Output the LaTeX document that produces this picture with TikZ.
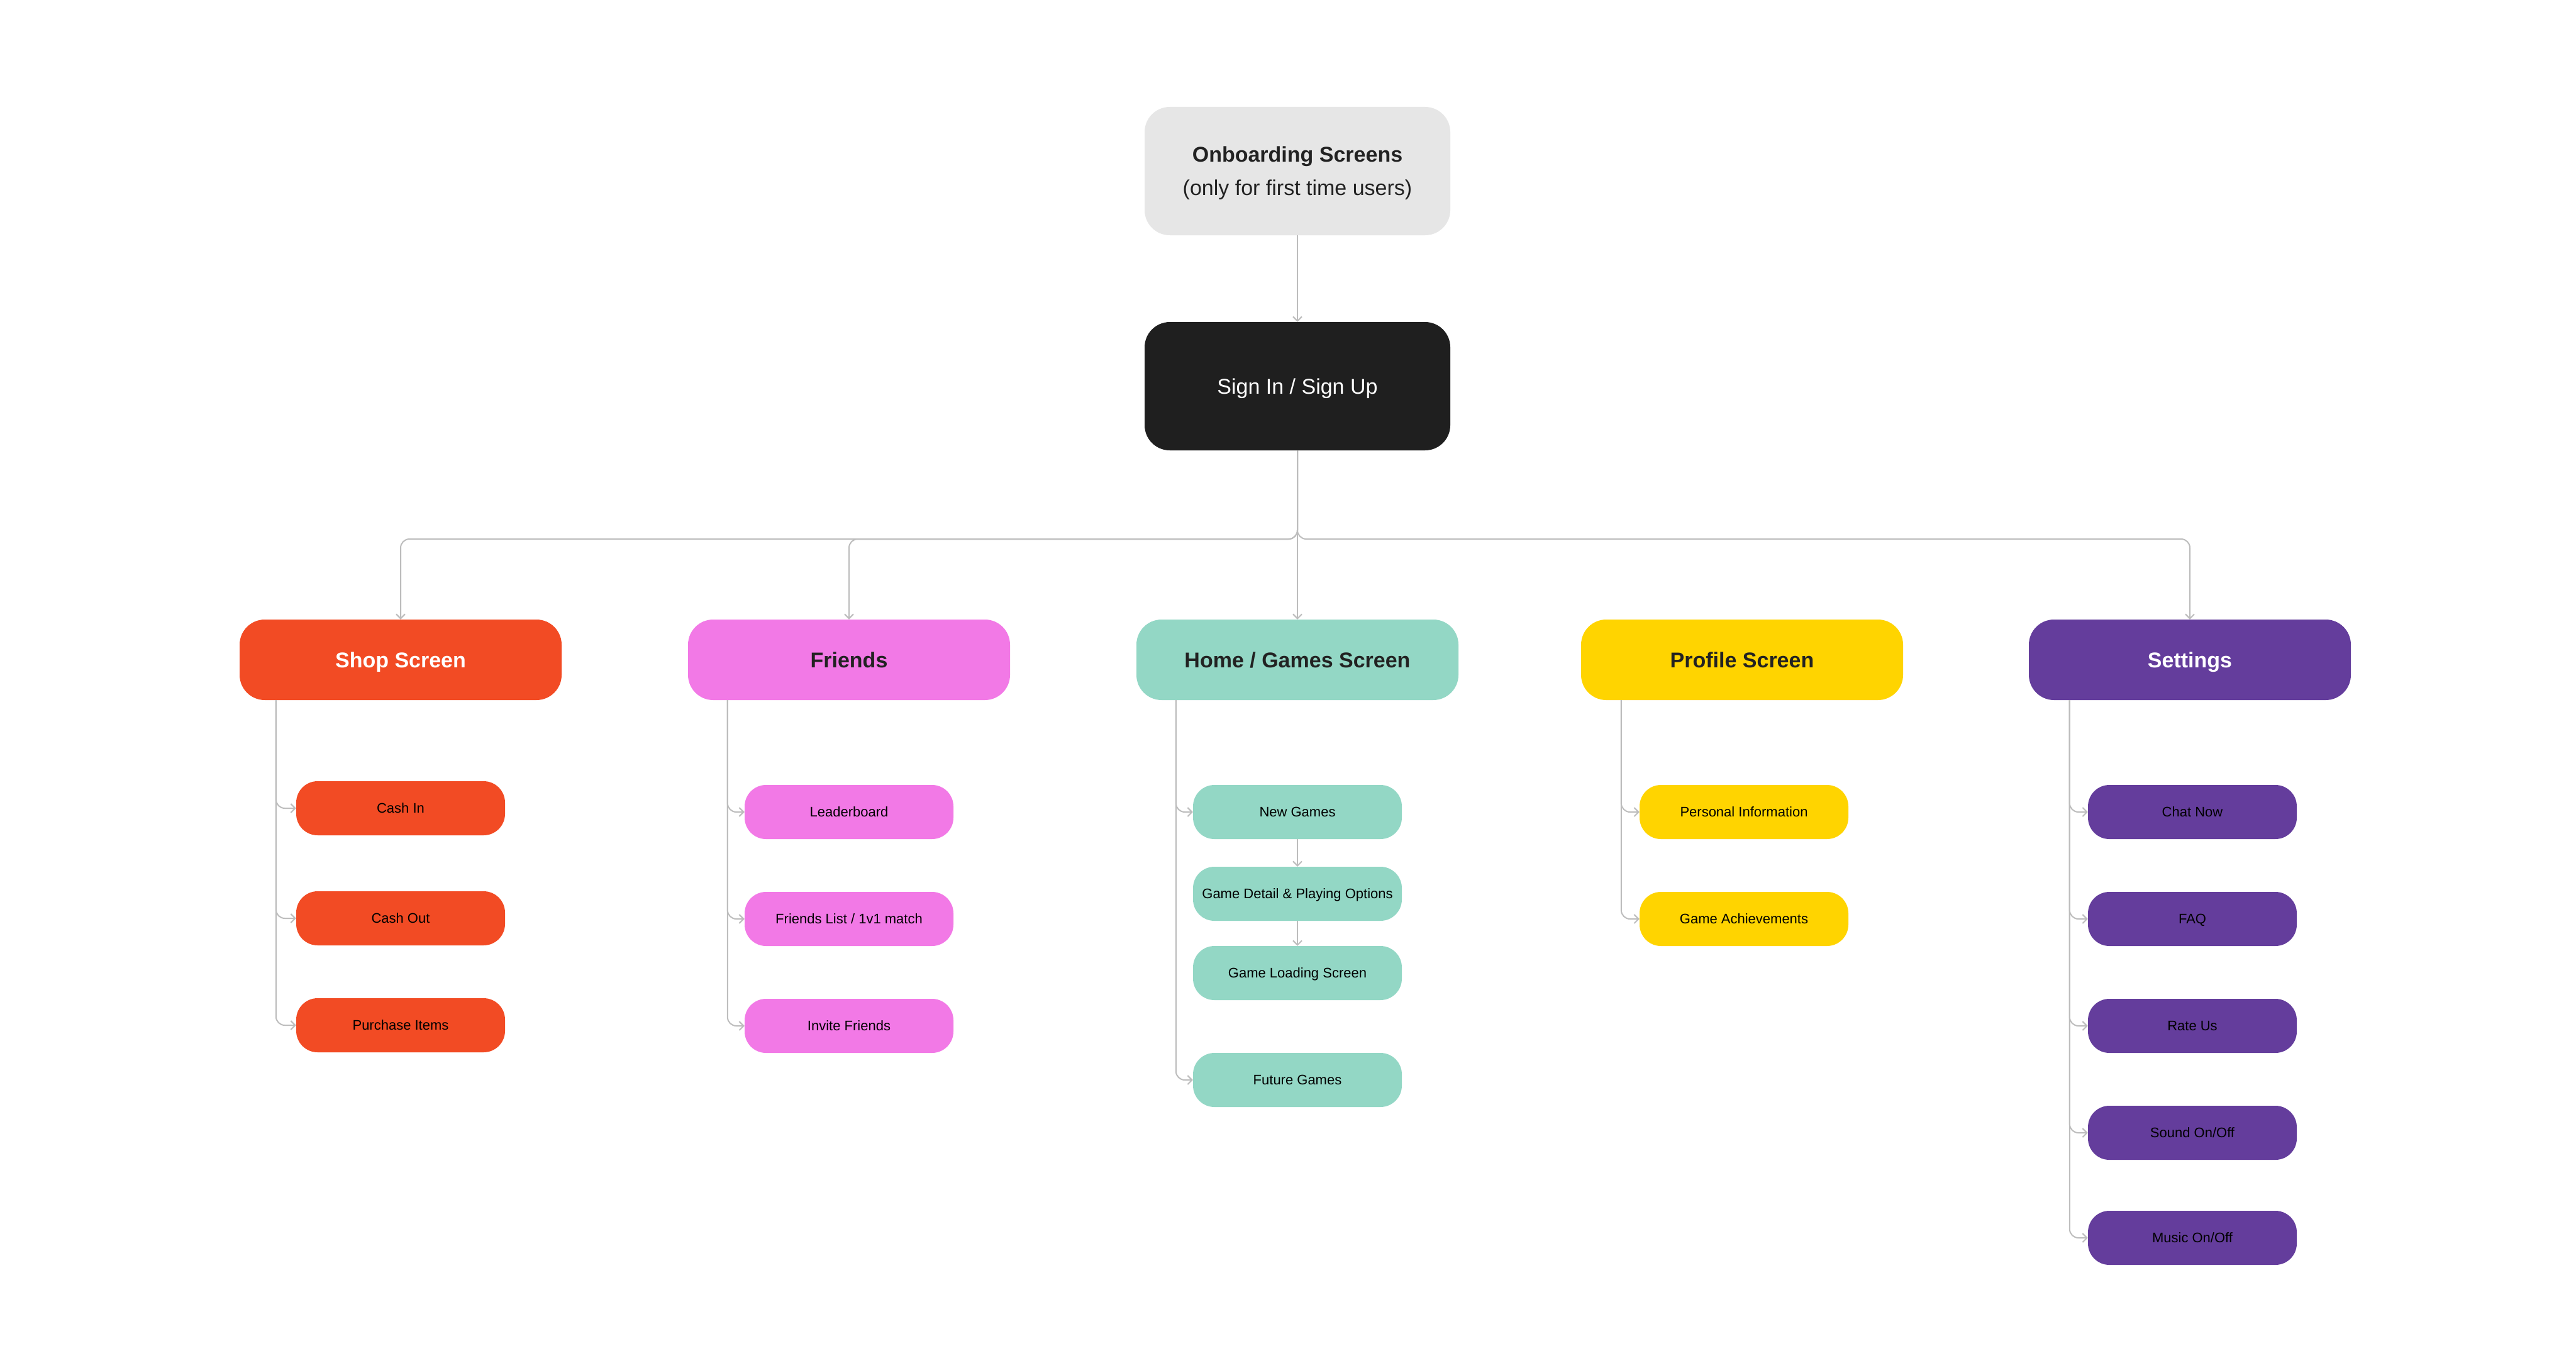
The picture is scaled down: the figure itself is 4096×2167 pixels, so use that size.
\documentclass[tikz,border=0pt]{standalone}
\usepackage{fontspec}
\setmainfont{Liberation Sans}
\usetikzlibrary{arrows.meta}
\definecolor{linegray}{HTML}{BDBDBD}
\definecolor{onbfill}{HTML}{E6E6E6}
\definecolor{signfill}{HTML}{1F1F1F}
\definecolor{shopfill}{HTML}{F24B24}
\definecolor{friendfill}{HTML}{F279E6}
\definecolor{homefill}{HTML}{93D7C5}
\definecolor{profilefill}{HTML}{FFD400}
\definecolor{setfill}{HTML}{643D9C}
\definecolor{darktext}{HTML}{222222}
\begin{document}
\begin{tikzpicture}[x=1pt,y=-1pt,
  topbox/.style={minimum width=486pt, minimum height=204pt, inner sep=0pt,
    rounded corners=40pt, align=center, font=\fontsize{34}{53}\selectfont},
  mainbox/.style={minimum width=512pt, minimum height=128pt, inner sep=0pt,
    rounded corners=40pt, text height=24.5pt, text depth=0pt,
    font=\fontsize{34}{40}\selectfont\bfseries},
  subbox/.style={minimum width=332pt, minimum height=86pt, inner sep=0pt,
    rounded corners=34pt, text=black, text height=15.8pt, text depth=0pt,
    font=\fontsize{22}{26}\selectfont},
  link/.style={draw=linegray, line width=2pt,
    -{Straight Barb[length=7pt,width=14pt,line width=2pt]}},
  branch/.style={link, rounded corners=14pt}
]
\useasboundingbox (0,0) rectangle (4096,2167);
\fill[white] (0,0) rectangle (4096,2167);

% entry flow
\node[topbox, fill=onbfill, text=darktext, text depth=0pt] (onb) at (2063,272)
  {\textbf{Onboarding Screens}\\(only for first time users)};
\node[topbox, fill=signfill, text=white, text height=24.5pt, text depth=0pt] (sign)
  at (2063,614) {Sign In / Sign Up};

% main screens
\node[mainbox, fill=shopfill, text=white] (shop) at (637,1049) {Shop Screen};
\node[mainbox, fill=friendfill, text=darktext] (friends) at (1350,1049) {Friends};
\node[mainbox, fill=homefill, text=darktext] (home) at (2063,1049) {Home / Games Screen};
\node[mainbox, fill=profilefill, text=darktext] (profile) at (2770,1049) {Profile Screen};
\node[mainbox, fill=setfill, text=white] (settings) at (3482,1049) {Settings};

% shop items
\node[subbox, fill=shopfill] (cashin) at (637,1285) {Cash In};
\node[subbox, fill=shopfill] (cashout) at (637,1460) {Cash Out};
\node[subbox, fill=shopfill] (purchase) at (637,1630) {Purchase Items};

% friends items
\node[subbox, fill=friendfill] (leader) at (1350,1291) {Leaderboard};
\node[subbox, fill=friendfill] (flist) at (1350,1461) {Friends List / 1v1 match};
\node[subbox, fill=friendfill] (invite) at (1350,1631) {Invite Friends};

% home items
\node[subbox, fill=homefill] (newg) at (2063,1291) {New Games};
\node[subbox, fill=homefill] (detail) at (2063,1421) {Game Detail \& Playing Options};
\node[subbox, fill=homefill] (loading) at (2063,1547) {Game Loading Screen};
\node[subbox, fill=homefill] (future) at (2063,1717) {Future Games};

% profile items
\node[subbox, fill=profilefill] (personal) at (2773,1291) {Personal Information};
\node[subbox, fill=profilefill] (achieve) at (2773,1461) {Game Achievements};

% settings items
\node[subbox, fill=setfill] (chat) at (3486,1291) {Chat Now};
\node[subbox, fill=setfill] (faq) at (3486,1461) {FAQ};
\node[subbox, fill=setfill] (rate) at (3486,1631) {Rate Us};
\node[subbox, fill=setfill] (sound) at (3486,1801) {Sound On/Off};
\node[subbox, fill=setfill] (music) at (3486,1968) {Music On/Off};

% top-level connectors
\coordinate (bus) at (2063,857);
\draw[link] (onb) -- (sign);
\draw[branch] (sign.south) -- (bus) -| (shop.north);
\draw[branch] (sign.south) -- (bus) -| (friends.north);
\draw[link] (sign.south) -- (home.north);
\draw[branch] (sign.south) -- (bus) -| (settings.north);

% shop branches
\foreach \c in {cashin,cashout,purchase}
  \draw[branch] ([xshift=58pt]shop.south west) |- (\c.west);
% friends branches
\foreach \c in {leader,flist,invite}
  \draw[branch] ([xshift=63pt]friends.south west) |- (\c.west);
% home branches
\foreach \c in {newg,future}
  \draw[branch] ([xshift=63pt]home.south west) |- (\c.west);
\draw[link] (newg) -- (detail);
\draw[link] (detail) -- (loading);
% profile branches
\foreach \c in {personal,achieve}
  \draw[branch] ([xshift=64pt]profile.south west) |- (\c.west);
% settings branches
\foreach \c in {chat,faq,rate,sound,music}
  \draw[branch] ([xshift=65pt]settings.south west) |- (\c.west);
\end{tikzpicture}
\end{document}
